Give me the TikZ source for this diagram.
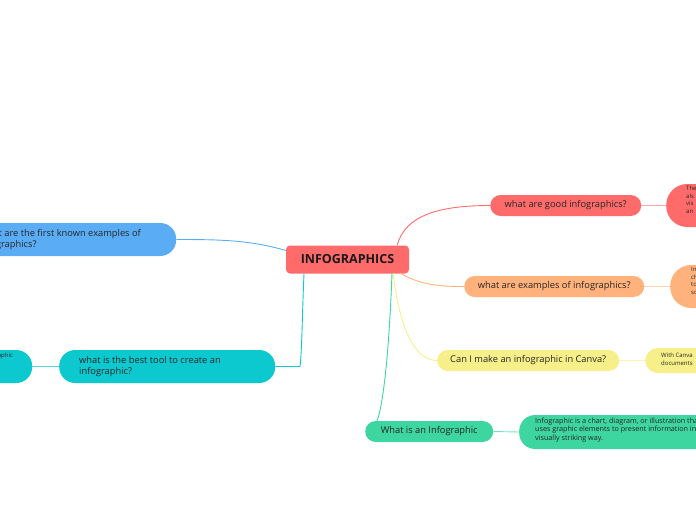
\documentclass[tikz,border=0pt]{standalone}
\usepackage{fontspec}
\setmainfont{Open Sans}
\begin{document}
\begin{tikzpicture}[x=1pt,y=-1pt,
  topic/.style={rounded corners=10.5pt,minimum height=21pt,inner sep=0pt,anchor=west,font=\fontsize{9.3}{11.5}\selectfont,text=black!85},
  sub/.style={rounded corners=16pt,minimum height=33pt,inner sep=0pt,anchor=west,font=\fontsize{9.3}{11.5}\selectfont,text=black!85},
  note/.style={inner sep=0pt,anchor=north west,align=left,font=\fontsize{7.2}{8.6}\selectfont,text=black!85},
  link/.style={line width=0.9pt}]
\useasboundingbox (0,0) rectangle (696,520);
\clip (0,0) rectangle (696,520);
\definecolor{cRed}{HTML}{FF6B6B}
\definecolor{cOrange}{HTML}{FFB27C}
\definecolor{cYellow}{HTML}{F7F08A}
\definecolor{cGreen}{HTML}{3DD6A0}
\definecolor{cBlue}{HTML}{5AADF5}
\definecolor{cTeal}{HTML}{0CC9D0}

% central
\node[fill=cRed,rounded corners=4pt,minimum width=123pt,minimum height=28pt,inner sep=0pt,
  font=\fontsize{12.5}{14}\selectfont\bfseries,text=black!90] (c) at (347.5,259.5) {INFOGRAPHICS};

% right topics
\node[topic,fill=cRed,minimum width=151pt] (good) at (490,205.5) {what are good infographics?};
\node[topic,fill=cOrange,minimum width=180pt] (ex) at (464,286.5) {what are examples of infographics?};
\node[topic,fill=cYellow,minimum width=182pt] (canva) at (437,360.5) {Can I make an infographic in Canva?};
\node[topic,fill=cGreen,minimum width=128pt] (what) at (365,431.5) {What is an Infographic};

% right notes
\node[fill=cRed,rounded corners=21pt,minimum width=80pt,minimum height=43pt,inner sep=0pt,anchor=west] (goodn) at (666,205.5) {};
\node[note,font=\fontsize{6}{7.6}\selectfont] (goodt) at (686,186) {The\\als\\vis\\an};
\node[fill=cOrange,rounded corners=21pt,minimum width=80pt,minimum height=43pt,inner sep=0pt,anchor=west] (exn) at (670,286.5) {};
\node[note,font=\fontsize{6}{7.6}\selectfont] (ext) at (691,267) {In\\ch\\to\\so};
\node[fill=cYellow,rounded corners=12.5pt,minimum width=90pt,minimum height=25pt,inner sep=0pt,anchor=west] (canvan) at (645,360.5) {};
\node[note,font=\fontsize{6}{7.6}\selectfont] (canvat) at (661,353) {With Canva\\documents};
\node[fill=cGreen,rounded corners=16pt,minimum width=220pt,minimum height=34pt,inner sep=0pt,anchor=west] (whatn) at (519,432) {};
\node[note] (whatt) at (535,417.5) {Infographic is a chart, diagram, or illustration that\\uses graphic elements to present information  in a\\visually striking way.};

% left
\node[sub,fill=cBlue,minimum width=226pt,align=left] (first) at (-50,239.5) {};
\node[anchor=west,inner sep=0pt,align=left,font=\fontsize{9.3}{11.5}\selectfont,text=black!85] (firstt) at (-21,239.5) {What are the first known examples of\\infographics?};
\node[sub,fill=cTeal,minimum width=216pt] (tool) at (59,366.5) {};
\node[anchor=west,inner sep=0pt,align=left,font=\fontsize{9.3}{11.5}\selectfont,text=black!85] (toolt) at (79,366.5) {what is the best tool to create an\\infographic?};
\node[sub,fill=cTeal,minimum width=82pt] (tooln) at (-50,366.5) {};
\node[note,font=\fontsize{6}{7.6}\selectfont] (toolnt) at (-19,353) {Infographic\\and};

% connectors
\draw[link,cRed] (c.north east) ++(-12,0) coordinate (c1) .. controls (405,215) and (440,205.5) .. (good.west);
\draw[link,cRed!60] (good.east) -- (goodn.west);
\draw[link,cOrange] (400,273) .. controls (420,285) and (440,286.5) .. (ex.west);
\draw[link,cOrange!60] (ex.east) -- (exn.west);
\draw[link,cYellow] (393,273) .. controls (400,330) and (415,360.5) .. (canva.west);
\draw[link,cYellow!70] (canva.east) -- (canvan.west);
\draw[link,cGreen] (392,273) .. controls (390,330) and (385,400) .. (377,421);
\draw[link,cGreen!70] (what.east) -- (whatn.west);
\draw[link,cBlue] (c.west) ++(0,-9) coordinate (c2) .. controls (250,240) and (220,239.5) .. (first.east);
\draw[link,cTeal] (304,273.5) .. controls (302,320) and (302,350) .. (300,366.5) -- (tool.east);
\draw[link,cTeal!70] (tooln.east) -- (tool.west);
\end{tikzpicture}
\end{document}
